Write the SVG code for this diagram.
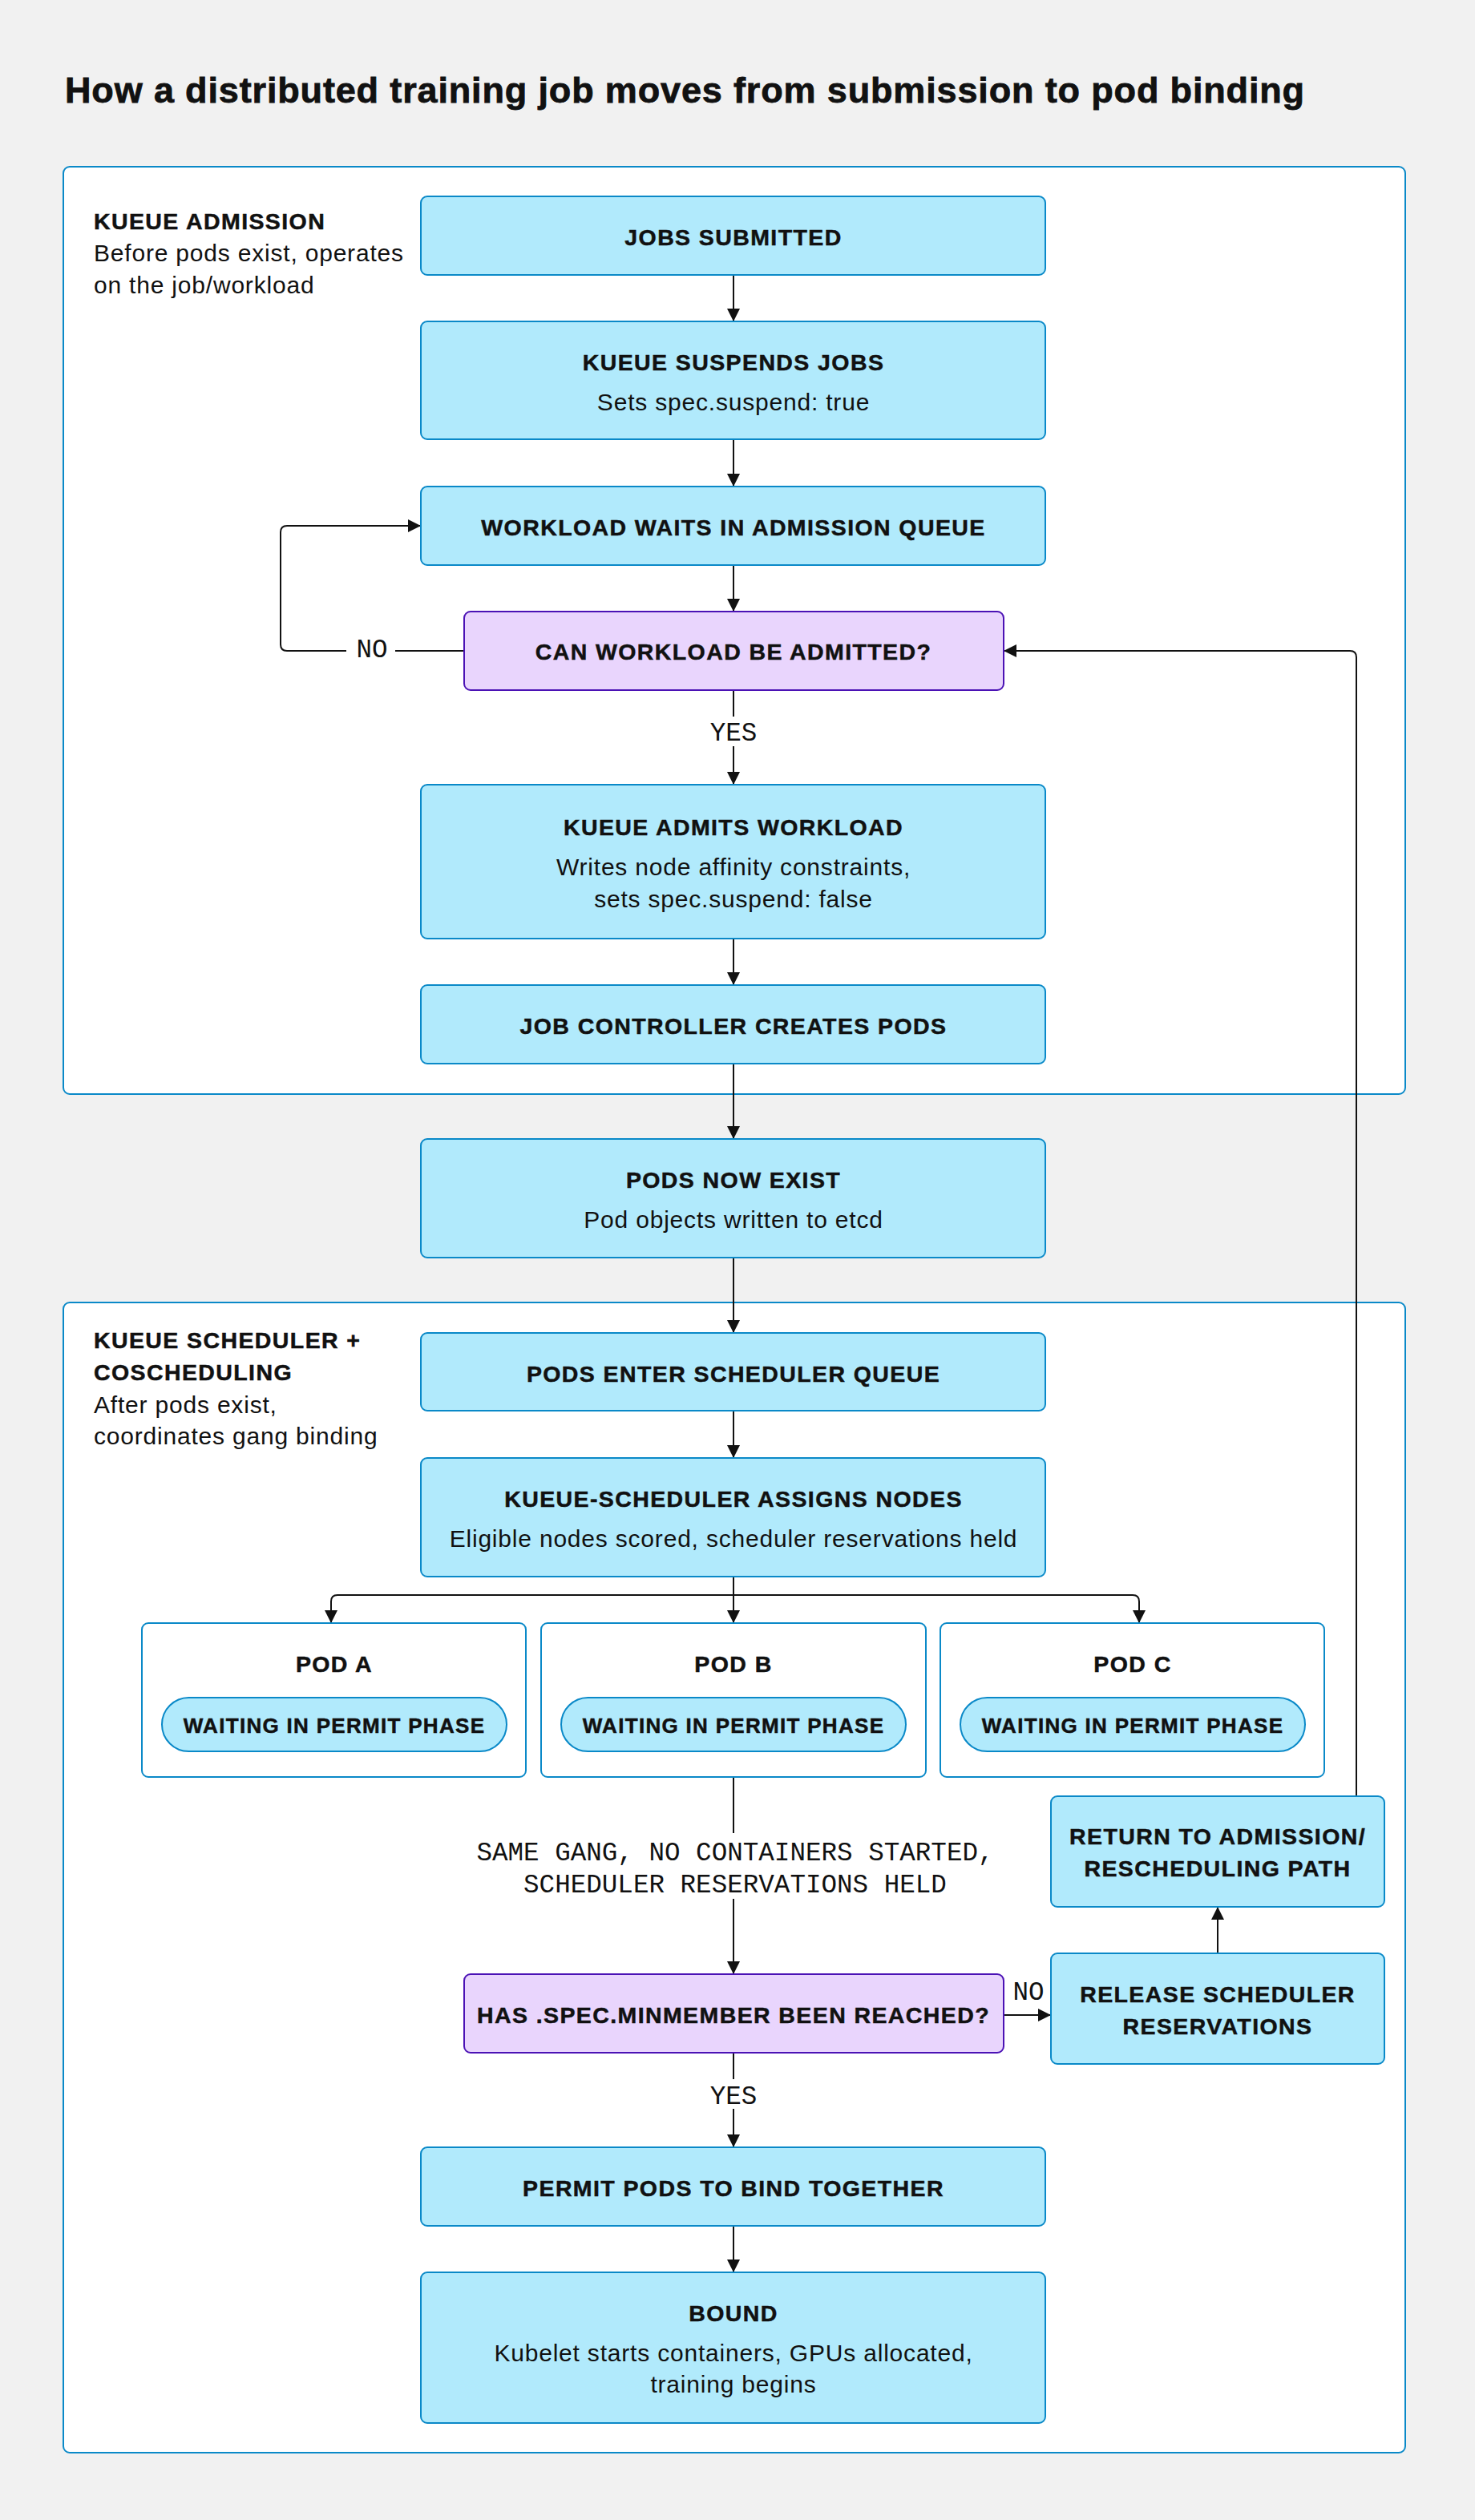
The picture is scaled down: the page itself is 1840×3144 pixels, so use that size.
<svg xmlns="http://www.w3.org/2000/svg" width="1840" height="3144" viewBox="0 0 1840 3144">
<style>
.bg{fill:#f1f1f1}
.frame{fill:#ffffff;stroke:#0a89c8;stroke-width:2}
.box{fill:#b1eafc;stroke:#0a89c8;stroke-width:2}
.dec{fill:#e9d5fd;stroke:#4b12b5;stroke-width:2}
.pod{fill:#ffffff;stroke:#0a89c8;stroke-width:2}
.pill{fill:#b1eafc;stroke:#0a89c8;stroke-width:2}
.title{font-family:"Liberation Sans",Arial,sans-serif;font-weight:700;font-size:45px;letter-spacing:0.85px;fill:#111;stroke:#111;stroke-width:0.8px}
.t{font-family:"Liberation Sans",Arial,sans-serif;font-weight:700;font-size:28.5px;letter-spacing:1.4px;text-anchor:middle;fill:#111;stroke:#111;stroke-width:0.5px}
.s{font-family:"Liberation Sans",Arial,sans-serif;font-size:30px;letter-spacing:0.8px;text-anchor:middle;fill:#111}
.lab{font-family:"Liberation Sans",Arial,sans-serif;font-weight:700;font-size:28.5px;letter-spacing:1.4px;fill:#111;stroke:#111;stroke-width:0.5px}
.labs{font-family:"Liberation Sans",Arial,sans-serif;font-size:30px;letter-spacing:0.8px;fill:#111}
.p{font-family:"Liberation Sans",Arial,sans-serif;font-weight:700;font-size:26px;letter-spacing:1.3px;text-anchor:middle;fill:#111;stroke:#111;stroke-width:0.5px}
.m{font-family:"Liberation Mono","DejaVu Sans Mono",monospace;font-size:32.6px;text-anchor:middle;fill:#111}
.c{fill:none;stroke:#111;stroke-width:2}
</style>
<defs>
<marker id="arr" viewBox="0 0 16 16" refX="16" refY="8" markerWidth="16" markerHeight="16" markerUnits="userSpaceOnUse" orient="auto">
<path d="M0,0 L16,8 L0,16 z" fill="#111"/>
</marker>
</defs>
<rect class="bg" x="0" y="0" width="1840" height="3144"/>
<text class="title" x="81" y="128">How a distributed training job moves from submission to pod binding</text>

<g id="frame-admission">
<rect class="frame" x="79" y="208" width="1674" height="1157" rx="8"/>
<text class="lab" x="117" y="286">KUEUE ADMISSION</text>
<text class="labs" x="117" y="326">Before pods exist, operates</text>
<text class="labs" x="117" y="366">on the job/workload</text>
</g>
<g id="frame-scheduler">
<rect class="frame" x="79" y="1625" width="1674" height="1435" rx="8"/>
<text class="lab" x="117" y="1682">KUEUE SCHEDULER +</text>
<text class="lab" x="117" y="1722">COSCHEDULING</text>
<text class="labs" x="117" y="1763">After pods exist,</text>
<text class="labs" x="117" y="1802">coordinates gang binding</text>
</g>

<g id="connectors">
<path class="c" d="M915,343 V401" marker-end="url(#arr)"/>
<path class="c" d="M915,548 V607" marker-end="url(#arr)"/>
<path class="c" d="M915,705 V763" marker-end="url(#arr)"/>
<path class="c" d="M579,812 H493"/>
<path class="c" d="M432,812 H358 Q350,812 350,804 V664 Q350,656 358,656 H525" marker-end="url(#arr)"/>
<text class="m" x="464" y="820">NO</text>
<path class="c" d="M915,861 V894"/>
<text class="m" x="915" y="924">YES</text>
<path class="c" d="M915,931 V979" marker-end="url(#arr)"/>
<path class="c" d="M915,1171 V1229" marker-end="url(#arr)"/>
<path class="c" d="M915,1327 V1421" marker-end="url(#arr)"/>
<path class="c" d="M915,1569 V1663" marker-end="url(#arr)"/>
<path class="c" d="M915,1760 V1819" marker-end="url(#arr)"/>
<path class="c" d="M915,1967 V2025" marker-end="url(#arr)"/>
<path class="c" d="M915,1990 H421 Q413,1990 413,1998 V2025" marker-end="url(#arr)"/>
<path class="c" d="M915,1990 H1413 Q1421,1990 1421,1998 V2025" marker-end="url(#arr)"/>
<path class="c" d="M915,2217 V2287"/>
<text class="m" x="917" y="2321">SAME GANG, NO CONTAINERS STARTED,</text>
<text class="m" x="917" y="2361">SCHEDULER RESERVATIONS HELD</text>
<path class="c" d="M915,2369 V2463" marker-end="url(#arr)"/>
<path class="c" d="M915,2561 V2594"/>
<text class="m" x="915" y="2625">YES</text>
<path class="c" d="M915,2631 V2679" marker-end="url(#arr)"/>
<path class="c" d="M915,2777 V2835" marker-end="url(#arr)"/>
<path class="c" d="M1252,2514 H1311" marker-end="url(#arr)"/>
<text class="m" x="1283" y="2495">NO</text>
<path class="c" d="M1519,2437 V2379" marker-end="url(#arr)"/>
<path class="c" d="M1692,2241 V820 Q1692,812 1684,812 H1252" marker-end="url(#arr)"/>
</g>

<g id="jobs-submitted">
<rect class="box" x="525" y="245" width="779" height="98" rx="8"/>
<text class="t" x="915" y="306">JOBS SUBMITTED</text>
</g>
<g id="kueue-suspends">
<rect class="box" x="525" y="401" width="779" height="147" rx="8"/>
<text class="t" x="915" y="462">KUEUE SUSPENDS JOBS</text>
<text class="s" x="915" y="512">Sets spec.suspend: true</text>
</g>
<g id="workload-waits">
<rect class="box" x="525" y="607" width="779" height="98" rx="8"/>
<text class="t" x="915" y="668">WORKLOAD WAITS IN ADMISSION QUEUE</text>
</g>
<g id="can-admit">
<rect class="dec" x="579" y="763" width="673" height="98" rx="8"/>
<text class="t" x="915" y="823">CAN WORKLOAD BE ADMITTED?</text>
</g>
<g id="kueue-admits">
<rect class="box" x="525" y="979" width="779" height="192" rx="8"/>
<text class="t" x="915" y="1042">KUEUE ADMITS WORKLOAD</text>
<text class="s" x="915" y="1092">Writes node affinity constraints,</text>
<text class="s" x="915" y="1132">sets spec.suspend: false</text>
</g>
<g id="job-controller">
<rect class="box" x="525" y="1229" width="779" height="98" rx="8"/>
<text class="t" x="915" y="1290">JOB CONTROLLER CREATES PODS</text>
</g>
<g id="pods-exist">
<rect class="box" x="525" y="1421" width="779" height="148" rx="8"/>
<text class="t" x="915" y="1482">PODS NOW EXIST</text>
<text class="s" x="915" y="1532">Pod objects written to etcd</text>
</g>
<g id="pods-enter">
<rect class="box" x="525" y="1663" width="779" height="97" rx="8"/>
<text class="t" x="915" y="1724">PODS ENTER SCHEDULER QUEUE</text>
</g>
<g id="assigns-nodes">
<rect class="box" x="525" y="1819" width="779" height="148" rx="8"/>
<text class="t" x="915" y="1880">KUEUE-SCHEDULER ASSIGNS NODES</text>
<text class="s" x="915" y="1930">Eligible nodes scored, scheduler reservations held</text>
</g>
<g id="pod-a">
<rect class="pod" x="177" y="2025" width="479" height="192" rx="8"/>
<text class="t" x="417" y="2086">POD A</text>
<rect class="pill" x="202" y="2118" width="430" height="67" rx="33.5"/>
<text class="p" x="417" y="2162">WAITING IN PERMIT PHASE</text>
</g>
<g id="pod-b">
<rect class="pod" x="675" y="2025" width="480" height="192" rx="8"/>
<text class="t" x="915" y="2086">POD B</text>
<rect class="pill" x="700" y="2118" width="430" height="67" rx="33.5"/>
<text class="p" x="915" y="2162">WAITING IN PERMIT PHASE</text>
</g>
<g id="pod-c">
<rect class="pod" x="1173" y="2025" width="479" height="192" rx="8"/>
<text class="t" x="1413" y="2086">POD C</text>
<rect class="pill" x="1198" y="2118" width="430" height="67" rx="33.5"/>
<text class="p" x="1413" y="2162">WAITING IN PERMIT PHASE</text>
</g>
<g id="return-path">
<rect class="box" x="1311" y="2241" width="416" height="138" rx="8"/>
<text class="t" x="1519" y="2301">RETURN TO ADMISSION/</text>
<text class="t" x="1519" y="2341">RESCHEDULING PATH</text>
</g>
<g id="minmember">
<rect class="dec" x="579" y="2463" width="673" height="98" rx="8"/>
<text class="t" x="915" y="2524">HAS .SPEC.MINMEMBER BEEN REACHED?</text>
</g>
<g id="release">
<rect class="box" x="1311" y="2437" width="416" height="138" rx="8"/>
<text class="t" x="1519" y="2498">RELEASE SCHEDULER</text>
<text class="t" x="1519" y="2538">RESERVATIONS</text>
</g>
<g id="permit">
<rect class="box" x="525" y="2679" width="779" height="98" rx="8"/>
<text class="t" x="915" y="2740">PERMIT PODS TO BIND TOGETHER</text>
</g>
<g id="bound">
<rect class="box" x="525" y="2835" width="779" height="188" rx="8"/>
<text class="t" x="915" y="2896">BOUND</text>
<text class="s" x="915" y="2946">Kubelet starts containers, GPUs allocated,</text>
<text class="s" x="915" y="2985">training begins</text>
</g>
</svg>
